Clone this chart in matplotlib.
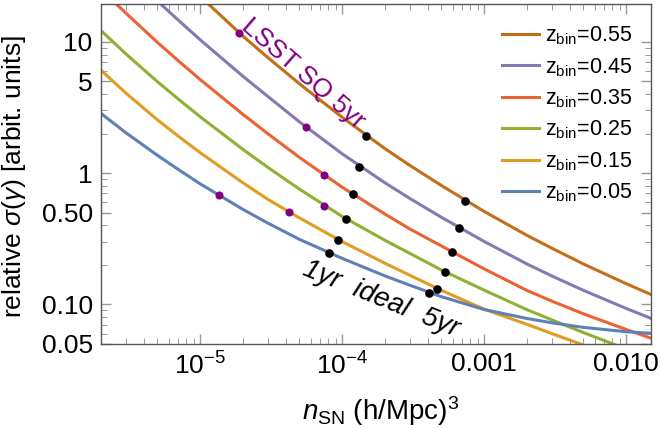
import matplotlib.pyplot as plt

plt.rcParams['font.family'] = ['Liberation Sans', 'DejaVu Sans']
plt.rcParams['mathtext.fontset'] = 'custom'
plt.rcParams['mathtext.rm'] = 'Liberation Sans'
plt.rcParams['mathtext.it'] = 'Liberation Sans:italic'

# sample points along n_SN (h/Mpc)^3
n_sn = [2e-6, 3e-6, 5e-6, 7e-6, 1e-5, 2e-5, 3e-5, 5e-5, 1e-4,
        2e-4, 3e-4, 5e-4, 1e-3, 2e-3, 3e-3, 5e-3, 1e-2, 1.5e-2]

z_bins = ['0.05', '0.15', '0.25', '0.35', '0.45', '0.55']
colors = ['#5E81B5', '#E19C24', '#8FB032', '#EB6235', '#8778B3', '#C56E1A']

sigma_005 = [2.846, 2.027, 1.364, 1.067, 0.828, 0.529, 0.416, 0.313, 0.2243,
             0.165, 0.140, 0.1146, 0.0915, 0.0782, 0.0725, 0.0669, 0.0620, 0.0603]
sigma_015 = [6.07, 4.06, 2.543, 1.913, 1.43, 0.843, 0.631, 0.456, 0.3007,
             0.2059, 0.1667, 0.1281, 0.0920, 0.0706, 0.060, 0.0491, 0.0379, 0.0325]
sigma_025 = [12.18, 8.07, 4.96, 3.667, 2.685, 1.515, 1.105, 0.755, 0.468,
             0.308, 0.2446, 0.183, 0.1285, 0.0913, 0.0763, 0.0611, 0.0458, 0.0393]
sigma_035 = [25.07, 16.5, 9.88, 7.18, 5.153, 2.80, 1.992, 1.317, 0.781,
             0.488, 0.3753, 0.279, 0.1865, 0.1279, 0.106, 0.0849, 0.0645, 0.0553]
sigma_045 = [53.2, 34.4, 20.4, 14.63, 10.35, 5.46, 3.83, 2.456, 1.403,
             0.844, 0.641, 0.461, 0.3017, 0.2034, 0.1647, 0.1281, 0.0933, 0.0783]
sigma_055 = [115, 75, 44.3, 31.5, 22.16, 11.03, 7.57, 4.79, 2.66,
             1.536, 1.144, 0.805, 0.511, 0.336, 0.268, 0.2034, 0.144, 0.119]
sigmas = [sigma_005, sigma_015, sigma_025, sigma_035, sigma_045, sigma_055]

# survey markers, per z bin (0.05 ... 0.55)
lsst_n = [1.35e-5, 4.25e-5, 7.5e-5, 7.5e-5, 5.54e-5, 1.88e-5]
lsst_sigma = [0.678, 0.504, 0.565, 0.96, 2.23, 11.7]
ideal1_n = [8.14e-5, 9.37e-5, 1.07e-4, 1.19e-4, 1.32e-4, 1.47e-4]
ideal1_sigma = [0.246, 0.311, 0.448, 0.69, 1.12, 1.93]
ideal5_n = [4.10e-4, 4.69e-4, 5.29e-4, 5.95e-4, 6.63e-4, 7.35e-4]
ideal5_sigma = [0.123, 0.132, 0.177, 0.252, 0.385, 0.617]

fig = plt.figure(figsize=(6.61, 4.28), dpi=100)
ax = fig.add_axes([0.1528, 0.1963, 0.8322, 0.7944])

# curves, top one first so legend order matches
for i in reversed(range(len(z_bins))):
    ax.plot(n_sn, sigmas[i], color=colors[i], lw=2.2,
            label=r'z$_{\rm bin}$=' + z_bins[i], zorder=2)

ax.plot(lsst_n, lsst_sigma, 'o', color='#800080', ms=5.8, mec='none', zorder=3)
ax.plot(ideal1_n, ideal1_sigma, 'o', color='black', ms=6.2, mec='none', zorder=3)
ax.plot(ideal5_n, ideal5_sigma, 'o', color='black', ms=6.2, mec='none', zorder=3)

ax.set_xscale('log')
ax.set_yscale('log')
ax.set_xlim(2.0e-6, 0.015)
ax.set_ylim(0.05, 19.4)

ax.set_xticks([1e-5, 1e-4, 1e-3, 1e-2])
ax.set_xticklabels([r'$10^{-5}$', r'$10^{-4}$', '0.001', '0.010'])
ax.set_yticks([0.05, 0.1, 0.5, 1, 5, 10])
ax.set_yticklabels(['0.05', '0.10', '0.50', '1', '5', '10'])

ax.tick_params(which='both', direction='in', top=True, right=True,
               labelsize=19, color='#999999', pad=6)
ax.tick_params(which='major', length=7, width=1)
ax.tick_params(which='minor', length=4, width=0.7)
ax.tick_params(axis='y', which='minor', labelleft=False)
for side in ax.spines.values():
    side.set_color('#555555')
    side.set_linewidth(1.0)

ax.set_xlabel(r'$n_{\rm SN}$ (h/Mpc)$^3$', fontsize=20)
ax.set_ylabel(r'relative $\sigma(\gamma)$ [arbit. units]', fontsize=19)
ax.xaxis.set_label_coords(0.509, -0.148)
ax.yaxis.set_label_coords(-0.133, 0.491)

ax.text(5.31e-5, 5.72, 'LSST SQ 5yr', color='#800080', fontsize=19,
        rotation=-41, ha='center', va='center')
ax.text(1.88e-4, 0.109, '1yr  ideal  5yr', color='black', fontsize=20,
        style='italic', rotation=-22, ha='center', va='center')

ax.legend(loc='upper right', bbox_to_anchor=(0.982, 0.965), frameon=False,
          fontsize=15.5, handlelength=1.72, handletextpad=0.28,
          labelspacing=0.41, borderaxespad=0.0)

fig.savefig('out.png', dpi=100)
